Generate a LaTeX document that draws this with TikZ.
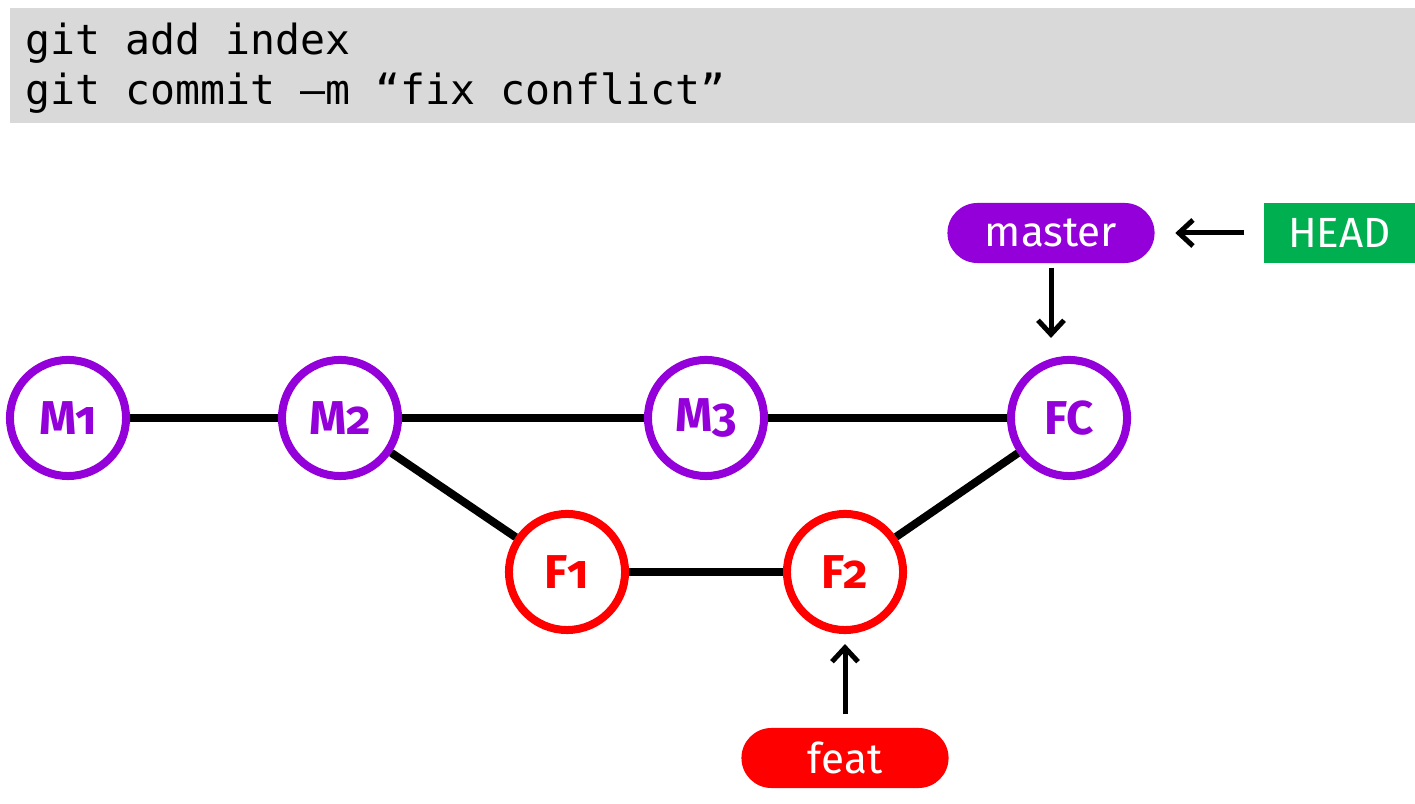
\documentclass[tikz,border=0pt]{standalone}
\usepackage{fontspec}
\setmainfont{Fira Sans}[Numbers=OldStyle]
\setmonofont{DejaVu Sans Mono}
\usetikzlibrary{arrows.meta}
\definecolor{gitpurple}{HTML}{9400DA}
\definecolor{gitred}{HTML}{FF0000}
\definecolor{gitgreen}{HTML}{00B050}
\definecolor{codegray}{HTML}{D9D9D9}
\tikzset{
  commit/.style={circle, draw=#1, text=#1, fill=white, line width=0.08cm,
    minimum size=1.16cm, inner sep=0pt, font=\fontsize{13.5}{15}\selectfont\bfseries},
  branch/.style={fill=#1, text=white, rounded corners=0.3cm, minimum width=2.07cm,
    minimum height=0.6cm, inner sep=0pt, font=\fontsize{12}{14}\selectfont},
  edge/.style={line width=0.08cm},
  ptr/.style={->, line width=0.05cm}
}
\begin{document}
\begin{tikzpicture}[x=0.01cm, y=-0.01cm, >={Straight Barb[length=1.4mm,width=2.6mm]}]
\useasboundingbox (0,0) rectangle (1415,804);
\fill[codegray] (10,8) rectangle (1415,123);
\node[anchor=base west, inner sep=0pt, font=\ttfamily\fontsize{11.8}{14}\selectfont] (cmd1) at (25,55) {git add index};
\node[anchor=base west, inner sep=0pt, font=\ttfamily\fontsize{11.8}{14}\selectfont] (cmd2) at (25,105) {git commit –m “fix conflict”};

% commits
\node[commit=gitpurple] (m1) at (68,418) {M1};
\node[commit=gitpurple] (m2) at (340,418) {M2};
\node[commit=gitpurple] (m3) at (706,418) {M3};
\node[commit=gitpurple] (fc) at (1069,418) {FC};
\node[commit=gitred] (f1) at (567,572) {F1};
\node[commit=gitred] (f2) at (845,572) {F2};

\foreach \a/\b in {m1/m2, m2/m3, m3/fc, m2/f1, f1/f2, f2/fc}
{
    \draw[edge] (\a) -- (\b);
}

% branches
\node[branch=gitpurple] (master) at (1051,233) {master};
\node[fill=gitgreen, text=white, minimum width=1.51cm, minimum height=0.6cm,
  inner sep=0pt, font=\fontsize{12}{14}\selectfont] (head) at (1339.5,233) {HEAD};
\node[branch=gitred] (feat) at (845,758) {feat};

\draw[ptr, shorten <=1.9mm, shorten >=2mm] (head) -- (master);
\draw[ptr, shorten <=0.4mm, shorten >=1.8mm] (master.south) -- (master.south |- fc.north);
\draw[ptr, shorten <=1.3mm, shorten >=1mm] (feat.north) -- (f2.south);
\end{tikzpicture}
\end{document}
